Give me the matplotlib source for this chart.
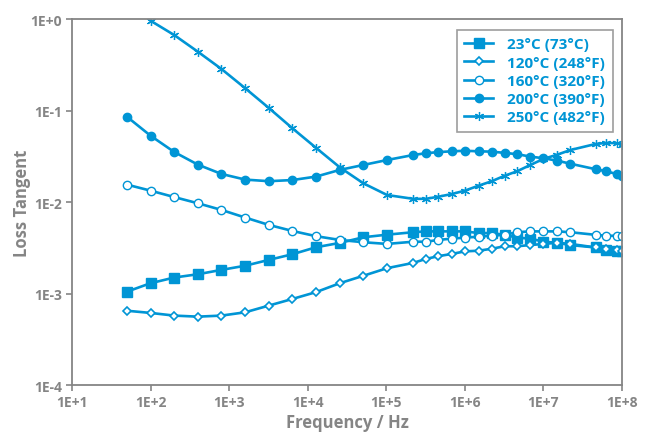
import matplotlib
matplotlib.use("Agg")
import matplotlib.pyplot as plt
from matplotlib.ticker import FixedLocator, NullLocator

# frequencies (Hz): low-frequency sweep + high-frequency sweep
freq_low = [50, 100, 200, 400, 800, 1600, 3200, 6400, 12800, 25600, 51200, 102400]
freq_high = [2.2e5, 3.2e5, 4.6e5, 6.8e5, 1e6, 1.5e6, 2.2e6, 3.2e6, 4.6e6, 6.8e6,
             1e7, 1.5e7, 2.2e7, 4.6e7, 6.3e7, 8.5e7, 1e8]
freq = freq_low + freq_high
freq_250 = freq[1:]   # 50 Hz point is off scale for 250 C

tan_23 = [0.00105, 0.0013, 0.0015, 0.00163, 0.00182, 0.00202, 0.00234, 0.0027,
          0.00322, 0.00359, 0.00414, 0.00442,
          0.0047, 0.0048, 0.0048, 0.0048, 0.0048, 0.0046, 0.0046, 0.0044, 0.0041,
          0.0040, 0.0037, 0.0036, 0.0034, 0.0032, 0.0030, 0.00295, 0.0029]
tan_120 = [0.00065, 0.000615, 0.000575, 0.00056, 0.000575, 0.000625, 0.00074,
           0.000875, 0.00104, 0.0013, 0.00157, 0.0019,
           0.00217, 0.0024, 0.00257, 0.00272, 0.0029, 0.00295, 0.0031, 0.0033,
           0.0033, 0.0034, 0.0035, 0.0036, 0.0035, 0.0032, 0.0031, 0.0030, 0.0029]
tan_160 = [0.0156, 0.0134, 0.0114, 0.00975, 0.00824, 0.0068, 0.00565, 0.00485,
           0.00425, 0.00387, 0.00365, 0.0035,
           0.0037, 0.0037, 0.00387, 0.0040, 0.0041, 0.0042, 0.0043, 0.0044, 0.0047,
           0.0048, 0.0048, 0.0048, 0.0047, 0.0044, 0.0043, 0.0043, 0.00425]
tan_200 = [0.0864, 0.0535, 0.0355, 0.0258, 0.0204, 0.0177, 0.017, 0.0175, 0.0191,
           0.0226, 0.0256, 0.029,
           0.0329, 0.0344, 0.0354, 0.0361, 0.0366, 0.0361, 0.0358, 0.0347, 0.0336,
           0.0316, 0.0303, 0.0285, 0.0264, 0.023, 0.0218, 0.0204, 0.0195]
tan_250 = [0.97, 0.676, 0.444, 0.287, 0.177, 0.1076, 0.0644, 0.0393, 0.0241,
           0.0161, 0.012,
           0.0109, 0.0109, 0.0115, 0.0123, 0.0134, 0.0152, 0.017, 0.0195, 0.0218,
           0.0256, 0.0298, 0.0332, 0.0373, 0.0434, 0.0446, 0.0443, 0.0427]

labels = ["23°C (73°C)", "120°C (248°F)", "160°C (320°F)", "200°C (390°F)", "250°C (482°F)"]
x_ticks = [1e1, 1e2, 1e3, 1e4, 1e5, 1e6, 1e7, 1e8]
x_labels = ["1E+1", "1E+2", "1E+3", "1E+4", "1E+5", "1E+6", "1E+7", "1E+8"]
y_ticks = [1e-4, 1e-3, 1e-2, 1e-1, 1e0]
y_labels = ["1E-4", "1E-3", "1E-2", "1E-1", "1E+0"]

blue = "#0095d5"
gray = "#858585"
plt.rcParams['font.family'] = ['Open Sans', 'DejaVu Sans']

fig = plt.figure(figsize=(6.48, 4.35), dpi=100)
ax = fig.add_axes([0.111, 0.1126, 0.849, 0.8403])

lw = 1.9
ax.plot(freq, tan_23, color=blue, lw=lw, marker='s', ms=7, label=labels[0])
ax.plot(freq, tan_120, color=blue, lw=lw, marker='D', ms=4.5, mfc='white',
        mew=1.2, label=labels[1])
ax.plot(freq, tan_160, color=blue, lw=lw, marker='o', ms=6, mfc='white',
        mew=1.0, label=labels[2])
ax.plot(freq, tan_200, color=blue, lw=lw, marker='o', ms=6, label=labels[3])
ax.plot(freq_250, tan_250, color=blue, lw=lw, marker=(6, 2, 0), ms=6.5,
        mew=0.9, label=labels[4])

ax.set_xscale('log')
ax.set_yscale('log')
ax.set_xlim(1e1, 1e8)
ax.set_ylim(1e-4, 1e0)
ax.xaxis.set_major_locator(FixedLocator(x_ticks))
ax.yaxis.set_major_locator(FixedLocator(y_ticks))
ax.xaxis.set_minor_locator(NullLocator())
ax.yaxis.set_minor_locator(NullLocator())
ax.set_xticklabels(x_labels)
ax.set_yticklabels(y_labels)

for sp in ax.spines.values():
    sp.set_color(gray)
    sp.set_linewidth(1.3)
ax.tick_params(colors=gray, direction='out', length=4, width=1.2, labelsize=10,
               pad=3)
for t in ax.get_xticklabels() + ax.get_yticklabels():
    t.set_fontweight('bold')

ax.set_xlabel("Frequency / Hz", color=gray, fontsize=12, fontweight='bold', labelpad=3)
ax.set_ylabel("Loss Tangent", color=gray, fontsize=12, fontweight='bold', labelpad=0)

leg = ax.legend(loc='upper right', bbox_to_anchor=(0.983, 0.972), frameon=True,
                fancybox=False, edgecolor=gray, handlelength=1.9, labelspacing=0.28,
                borderpad=0.5, handletextpad=0.9, borderaxespad=0,
                prop={'weight': 'bold', 'size': 11})
leg.get_frame().set_linewidth(1.2)
for t in leg.get_texts():
    t.set_color(blue)

fig.savefig("out.png", dpi=100)
